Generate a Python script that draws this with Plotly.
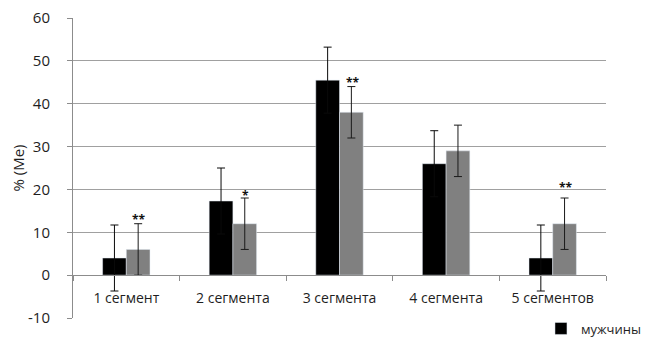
import plotly.graph_objects as go

categories = ["1 сегмент", "2 сегмента", "3 сегмента", "4 сегмента", "5 сегментов"]
men = [4.0, 17.3, 45.5, 26.0, 4.0]
men_err = [7.7, 7.7, 7.7, 7.7, 7.7]
women = [6.0, 12.0, 38.0, 29.0, 12.0]
women_err = [6.0, 6.0, 6.0, 6.0, 6.0]
stars = ["**", "*", "**", "", "**"]
star_y = [10.6, 16.1, 42.4, None, 17.9]
y_ticks = [-10, 0, 10, 20, 30, 40, 50, 60]
y_ticktext = ["-10", "0", "10", "20", "30", "40", "50", "60"]

FONT = "Open Sans"
TXT = "#1e1e1e"
fig = go.Figure()
fig.add_trace(go.Bar(
    x=categories, y=men, name="мужчины", marker_color="#000000",
    error_y=dict(type="data", array=men_err, color="#0a0a0a", thickness=1, width=4),
))
fig.add_trace(go.Bar(
    x=categories, y=women, name="женщины", marker_color="#808080", showlegend=False,
    error_y=dict(type="data", array=women_err, color="#1a1a1a", thickness=1, width=4),
))

for c, s, yv in zip(categories, stars, star_y):
    if s:
        fig.add_annotation(x=c, y=yv, text="<b>" + s + "</b>", showarrow=False, xref="x", yref="y",
                           xshift=13, yanchor="bottom",
                           font=dict(family=FONT, size=12, color="#111111"))

# page has an 8px body margin, so the figure is drawn at (8, 8)
fig.update_layout(
    width=641, height=341,
    margin=dict(l=65, r=43, t=10, b=31, autoexpand=False),
    paper_bgcolor="white", plot_bgcolor="white",
    barmode="group", bargap=0.555, bargroupgap=0,
    font=dict(family=FONT, size=14, color=TXT),
    legend=dict(x=0.878, y=-0.035, xanchor="left", yanchor="middle",
                font=dict(family=FONT, size=13, color=TXT),
                bgcolor="rgba(0,0,0,0)", itemwidth=30),
    xaxis=dict(
        type="category", anchor="free", position=1/7, automargin=False,
        showline=True, linecolor="#8c8c8c", linewidth=1,
        showgrid=False, ticks="outside", ticklen=5, tickcolor="#8c8c8c",
        tickson="boundaries", ticklabelstandoff=10,
        tickfont=dict(family=FONT, size=14, color=TXT),
    ),
    yaxis=dict(
        range=[-10, 60], tickvals=y_ticks, ticktext=y_ticktext, automargin=False,
        ticklabeloverflow="allow",
        showgrid=True, gridcolor="#a0a0a0", gridwidth=1,
        showline=True, linecolor="#8c8c8c", linewidth=1,
        ticks="outside", ticklen=5, tickcolor="#8c8c8c",
        zeroline=False, ticklabelstandoff=14,
        title=dict(text="% (Me)", font=dict(family=FONT, size=15, color=TXT), standoff=0),
        tickfont=dict(family=FONT, size=15, color=TXT),
    ),
)

fig.write_html("out.html")
